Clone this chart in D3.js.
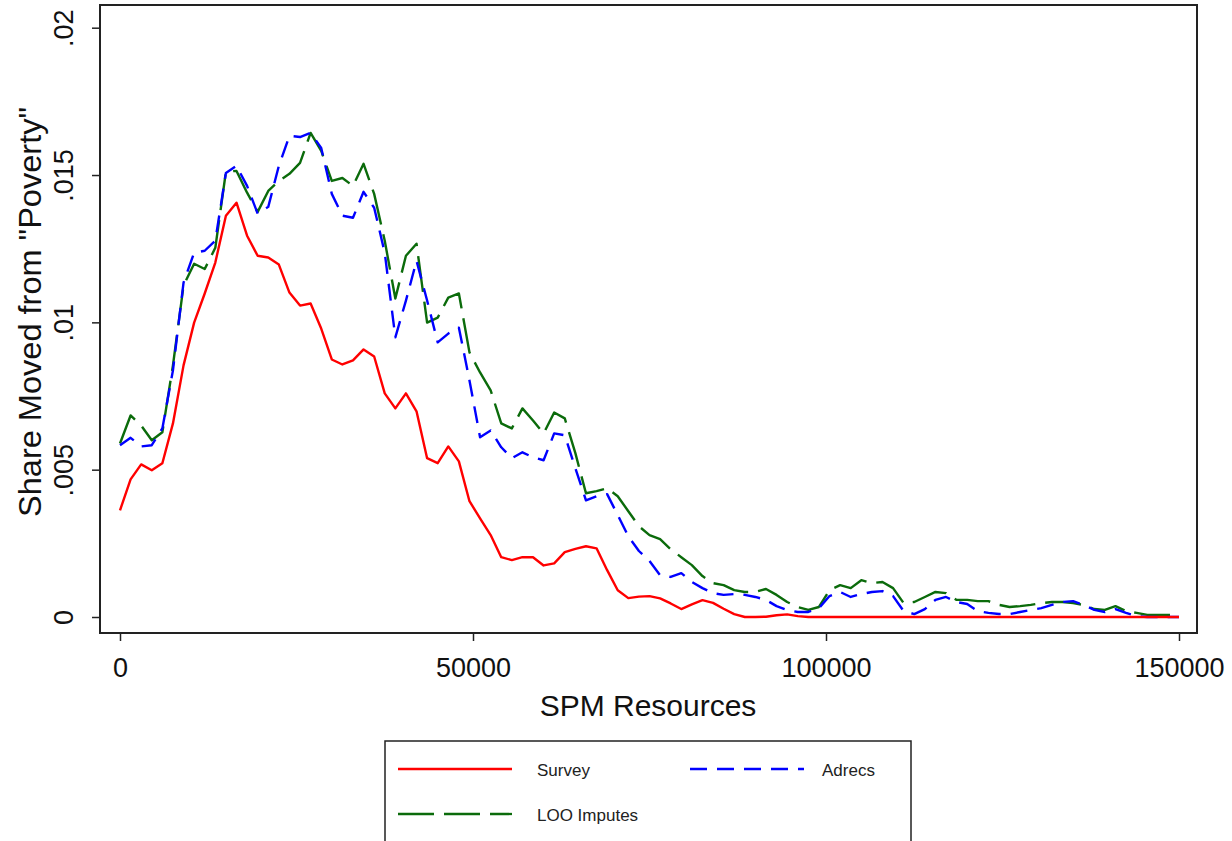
<!DOCTYPE html>
<html>
<head>
<meta charset="utf-8">
<script src="https://cdn.jsdelivr.net/npm/d3@7/dist/d3.min.js"></script>
<style>
  html, body { margin: 0; padding: 0; background: #fff; }
  svg { display: block; font-family: "Liberation Sans", Arial, Helvetica, sans-serif; }
</style>
</head>
<body>
<svg id="chart" width="1232" height="841"></svg>
<script>
// ---- data ----
const resources = d3.range(0, 150001, 1500); // SPM resources grid (x)
const survey = [0.00362,0.00467,0.00518,0.00498,0.00522,0.00657,0.00854,0.00999,0.01098,0.01203,
  0.01362,0.01406,0.01294,0.01226,0.01220,0.01196,0.01101,0.01057,0.01064,0.00979,
  0.00874,0.00857,0.00871,0.00908,0.00884,0.00759,0.00708,0.00759,0.00698,0.00539,
  0.00522,0.00579,0.00528,0.00393,0.00335,0.00278,0.00203,0.00193,0.00203,0.00203,
  0.00175,0.00182,0.00220,0.00231,0.00240,0.00233,0.00159,0.00091,0.00064,0.00069,
  0.00071,0.00063,0.00046,0.00027,0.00043,0.00057,0.00048,0.00028,0.00010,0.00000,
  0.00000,0.00001,0.00006,0.00009,0.00003,0,0,0,0,0,
  0,0,0,0,0,0,0,0,0,0,
  0,0,0,0,0,0,0,0,0,0,
  0,0,0,0,0,0,0,0,0,0,0];
const adrecs = [0.00583,0.00608,0.00579,0.00583,0.00640,0.00837,0.01135,0.01236,0.01243,0.01277,
  0.01507,0.01531,0.01463,0.01369,0.01392,0.01531,0.01633,0.01629,0.01643,0.01592,
  0.01436,0.01362,0.01355,0.01443,0.01389,0.01236,0.00949,0.01074,0.01209,0.01074,
  0.00932,0.00962,0.00982,0.00803,0.00610,0.00633,0.00576,0.00539,0.00559,0.00542,
  0.00532,0.00623,0.00617,0.00505,0.00396,0.00410,0.00417,0.00346,0.00274,0.00224,
  0.00190,0.00142,0.00136,0.00149,0.00119,0.00098,0.00081,0.00075,0.00078,0.00075,
  0.00068,0.00058,0.00037,0.00024,0.00017,0.00017,0.00030,0.00071,0.00085,0.00068,
  0.00078,0.00085,0.00088,0.00071,0.00020,0.00010,0.00027,0.00058,0.00068,0.00051,
  0.00044,0.00020,0.00014,0.00010,0.00010,0.00017,0.00024,0.00030,0.00041,0.00051,
  0.00054,0.00041,0.00024,0.00017,0.00027,0.00014,0.00003,0,0,0,0];
const looImputes = [0.00589,0.00684,0.00650,0.00600,0.00627,0.00854,0.01125,0.01199,0.01181,0.01253,
  0.01511,0.01514,0.01440,0.01375,0.01446,0.01480,0.01504,0.01541,0.01643,0.01582,
  0.01480,0.01490,0.01463,0.01538,0.01436,0.01277,0.01081,0.01226,0.01267,0.00999,
  0.01016,0.01084,0.01098,0.00898,0.00830,0.00769,0.00657,0.00640,0.00708,0.00667,
  0.00623,0.00694,0.00674,0.00556,0.00420,0.00427,0.00437,0.00410,0.00359,0.00308,
  0.00278,0.00264,0.00230,0.00203,0.00176,0.00139,0.00115,0.00108,0.00091,0.00085,
  0.00085,0.00095,0.00075,0.00051,0.00034,0.00024,0.00034,0.00091,0.00108,0.00098,
  0.00125,0.00115,0.00119,0.00098,0.00047,0.00051,0.00068,0.00085,0.00081,0.00058,
  0.00058,0.00054,0.00054,0.00041,0.00034,0.00037,0.00041,0.00047,0.00051,0.00051,
  0.00047,0.00041,0.00027,0.00024,0.00037,0.00020,0.00014,0.00007,0.00007,0.00007,0.00007];
const xTicks = [0, 50000, 100000, 150000];
const xTickLabels = ["0", "50000", "100000", "150000"];
const yTicks = [0, 0.005, 0.01, 0.015, 0.02];
const yTickLabels = ["0", ".005", ".01", ".015", ".02"];
const seriesNames = ["Survey", "Adrecs", "LOO Imputes"];

// ---- layout ----
const svg = d3.select("#chart");
const frame = {left: 100, top: 5, right: 1197, bottom: 633};
const x = d3.scaleLinear().domain([0, 150000]).range([120, 1179]);
const y = d3.scaleLinear().domain([0, 0.02]).range([617, 27.7]);

const series = [
  {name: seriesNames[0], values: survey, color: "#ff0000", dash: null},
  {name: seriesNames[1], values: adrecs, color: "#0000ff", dash: "17,10"},
  {name: seriesNames[2], values: looImputes, color: "#0b6b0b", dash: "36,10"}
];

// plot frame
svg.append("rect")
  .attr("x", frame.left).attr("y", frame.top)
  .attr("width", frame.right - frame.left).attr("height", frame.bottom - frame.top)
  .attr("fill", "none").attr("stroke", "#222").attr("stroke-width", 2);

// lines
const line = d3.line().x((d, i) => x(resources[i])).y(d => y(d));
const g = svg.append("g");
[series[2], series[1], series[0]].forEach(s => {
  g.append("path")
    .datum(s.values)
    .attr("d", line)
    .attr("fill", "none")
    .attr("stroke", s.color)
    .attr("stroke-width", 2.4)
    .attr("stroke-linejoin", "round")
    .attr("stroke-dasharray", s.dash);
});

// y axis
const yAxis = svg.append("g").attr("transform", `translate(${frame.left},0)`)
  .call(d3.axisLeft(y).tickValues(yTicks).tickSize(8).tickFormat((d, i) => yTickLabels[i]));
yAxis.select(".domain").remove();
yAxis.selectAll(".tick line").attr("stroke", "#222").attr("stroke-width", 1.5);
yAxis.selectAll(".tick text")
  .attr("x", null).attr("dy", null)
  .attr("transform", "translate(-27,0) rotate(-90)")
  .attr("text-anchor", "middle")
  .attr("font-size", 27).attr("fill", "#111")
  .attr("font-family", "'Liberation Sans', Arial, sans-serif");

// x axis
const xAxis = svg.append("g").attr("transform", `translate(0,${frame.bottom})`)
  .call(d3.axisBottom(x).tickValues(xTicks).tickSize(8).tickFormat((d, i) => xTickLabels[i]));
xAxis.select(".domain").remove();
xAxis.selectAll(".tick line").attr("stroke", "#222").attr("stroke-width", 1.5);
xAxis.selectAll(".tick text")
  .attr("y", 44).attr("dy", null)
  .attr("font-size", 27).attr("fill", "#111")
  .attr("font-family", "'Liberation Sans', Arial, sans-serif");

// axis titles
svg.append("text")
  .attr("x", 648).attr("y", 716)
  .attr("text-anchor", "middle")
  .attr("font-size", 30).attr("fill", "#111")
  .text("SPM Resources");
svg.append("text")
  .attr("transform", "translate(41,312) rotate(-90)")
  .attr("text-anchor", "middle")
  .attr("font-size", 31.5).attr("fill", "#111")
  .attr("textLength", 410).attr("lengthAdjust", "spacingAndGlyphs")
  .text('Share Moved from "Poverty"');

// legend
const leg = svg.append("g");
leg.append("rect")
  .attr("x", 385).attr("y", 741).attr("width", 526).attr("height", 120)
  .attr("fill", "#fff").attr("stroke", "#222").attr("stroke-width", 1.5);
const legPos = [
  {lx: 398, ly: 769, tx: 537},
  {lx: 690, ly: 769, tx: 822},
  {lx: 398, ly: 814, tx: 537}
];
series.forEach((s, i) => {
  const p = legPos[i];
  leg.append("line")
    .attr("x1", p.lx).attr("x2", p.lx + 114)
    .attr("y1", p.ly).attr("y2", p.ly)
    .attr("stroke", s.color).attr("stroke-width", 2.3)
    .attr("stroke-dasharray", s.dash);
  leg.append("text")
    .attr("x", p.tx).attr("y", p.ly + 7)
    .attr("font-size", 17).attr("fill", "#222")
    .text(s.name);
});
</script>
</body>
</html>
